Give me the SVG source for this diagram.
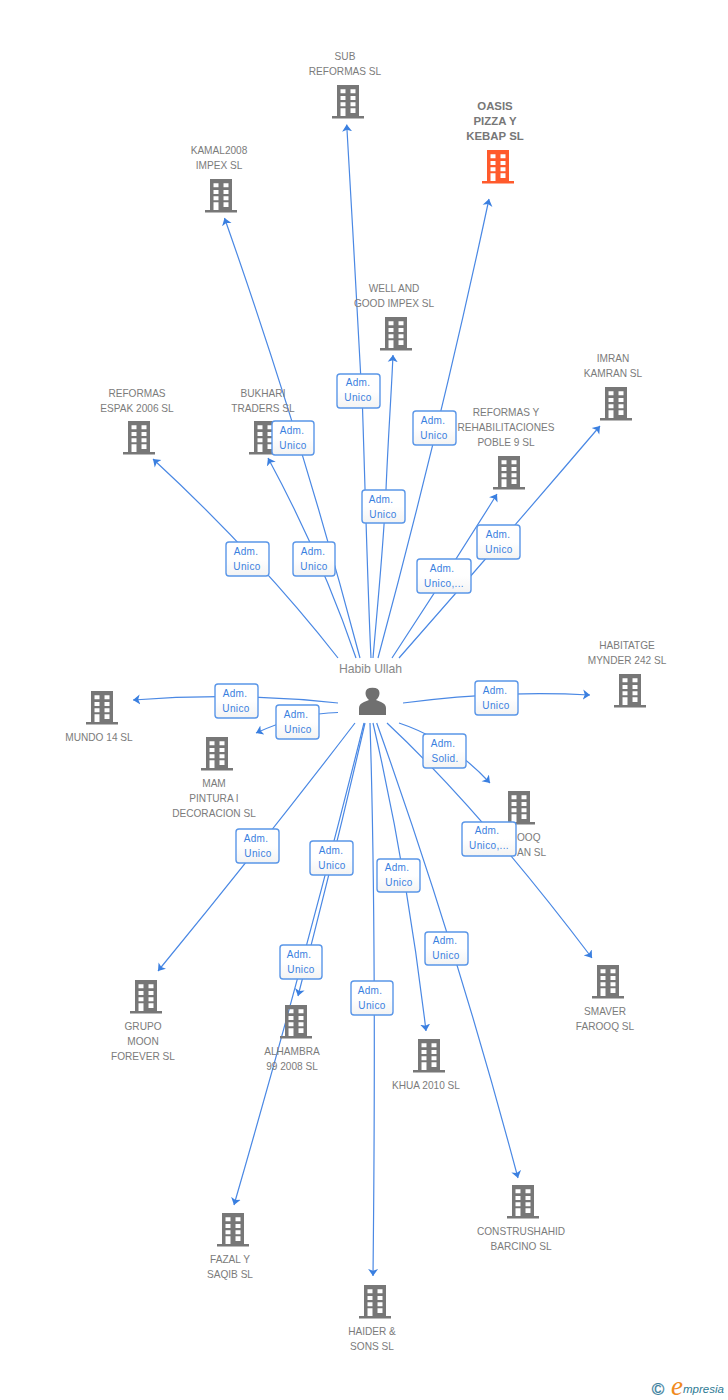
<svg xmlns="http://www.w3.org/2000/svg" width="728" height="1400" viewBox="0 0 728 1400">
<style>
text{font-family:"Liberation Sans",Arial,sans-serif}
.n{font-size:10.100px;fill:#7b7b7b;text-anchor:middle}
.s{font-size:10.100px;fill:#7b7b7b}
.b{font-size:11.400px;font-weight:bold;fill:#777;text-anchor:middle}
.l{font-size:10px;fill:#3a7fe0;text-anchor:middle;letter-spacing:.35px}
.c path{fill:none;stroke:#4a88e4;stroke-width:1.200;marker-end:url(#arr)}
.box{fill:url(#g);stroke:#5a96e8;stroke-width:1.400}
</style>
<defs>
<linearGradient id="g" x1="0" y1="0" x2="0" y2="1"><stop offset="0" stop-color="#fff"/><stop offset=".5" stop-color="#fff"/><stop offset="1" stop-color="#f3f3f3"/></linearGradient>
<marker id="arr" markerUnits="userSpaceOnUse" markerWidth="7" markerHeight="11" viewBox="0 0 7 11" refX="7" refY="5.500" orient="auto"><polygon points="7,5.500 0,0.500 1.800,5.500 0,10.500" fill="#3a7fe0"/></marker>
<symbol id="bld" overflow="visible" viewBox="0 0 32 34" width="32" height="34">
<path fill-rule="evenodd" d="M5 0H27V31H32V33.500H0V31H5ZM8.500 4.300V8.300H13.500V4.300ZM18.500 4.300V8.300H23.500V4.300ZM8.500 11V15H13.500V11ZM18.500 11V15H23.500V11ZM8.500 17.300V21.300H13.500V17.300ZM18.500 17.300V21.300H23.500V17.300ZM8.500 23.300V31H13.500V23.300ZM18.500 23.300V28H23.500V23.300Z"/>
</symbol>
</defs>
<rect width="728" height="1400" fill="#fff"/>
<g class="c" id="connectors">
<path d="M371 658C368 600 364 450 362.500 408S352 220 346.700 124.500"/>
<path d="M378 658Q440 428 489 199"/>
<path d="M360 658Q302 438 224.500 218"/>
<path d="M373 658C378 600 384 540 386 490S391 400 393 355"/>
<path d="M399 658Q501 542 600 426"/>
<path d="M338 658Q258 556 153 459"/>
<path d="M356 658Q322 558 268 458"/>
<path d="M392 658Q446 576 497 494"/>
<path d="M403 703Q500 690 590 695"/>
<path d="M338 703Q235 692 133 700"/>
<path d="M338 712.500Q300 713 256 733"/>
<path d="M399 723Q450 740 490 783"/>
<path d="M387 723Q480 810 592 958"/>
<path d="M355 723Q260 847 158 971"/>
<path d="M365 723Q334 858 298 996"/>
<path d="M364 723Q305 960 234 1205"/>
<path d="M370 723C374 850 376 1000 373 1276"/>
<path d="M373 723Q407 870 426 1031"/>
<path d="M376.700 723Q456 945 518 1178"/>
</g>
<g id="n-sub"><text class="n" x="345" y="60">SUB</text><text class="n" x="345" y="75">REFORMAS SL</text><use href="#bld" x="332" y="85" fill="#777"/></g>
<g id="n-oasis"><text class="b" x="495" y="110">OASIS</text><text class="b" x="495" y="125">PIZZA Y</text><text class="b" x="495" y="140">KEBAP SL</text><use href="#bld" x="482" y="150" fill="#ff5a2c"/></g>
<g id="n-kamal"><text class="n" x="219" y="154">KAMAL2008</text><text class="n" x="219" y="169">IMPEX SL</text><use href="#bld" x="205" y="179" fill="#777"/></g>
<g id="n-well"><text class="n" x="394" y="292">WELL AND</text><text class="n" x="394" y="307">GOOD IMPEX SL</text><use href="#bld" x="380" y="317" fill="#777"/></g>
<g id="n-imran"><text class="n" x="613" y="362">IMRAN</text><text class="n" x="613" y="377">KAMRAN SL</text><use href="#bld" x="600" y="387" fill="#777"/></g>
<g id="n-espak"><text class="n" x="137" y="397">REFORMAS</text><text class="n" x="137" y="412">ESPAK 2006 SL</text><use href="#bld" x="123" y="421" fill="#777"/></g>
<g id="n-bukhari"><text class="n" x="263" y="397">BUKHARI</text><text class="n" x="263" y="412">TRADERS SL</text><use href="#bld" x="249" y="421" fill="#777"/></g>
<g id="n-poble"><text class="n" x="506" y="416">REFORMAS Y</text><text class="n" x="506" y="431">REHABILITACIONES</text><text class="n" x="506" y="446">POBLE 9 SL</text><use href="#bld" x="493" y="456" fill="#777"/></g>
<g id="n-habitatge"><text class="n" x="627" y="649">HABITATGE</text><text class="n" x="627" y="664">MYNDER 242 SL</text><use href="#bld" x="614" y="674" fill="#777"/></g>
<g id="n-mundo"><use href="#bld" x="86" y="691" fill="#777"/><text class="n" x="99" y="741">MUNDO 14 SL</text></g>
<g id="n-mam"><use href="#bld" x="201" y="737" fill="#777"/><text class="n" x="214" y="787">MAM</text><text class="n" x="214" y="802">PINTURA I</text><text class="n" x="214" y="817">DECORACION SL</text></g>
<g id="n-farooq"><use href="#bld" x="503" y="791" fill="#777"/><text class="s" x="517" y="841">OOQ</text><text class="s" x="517" y="856">AN SL</text></g>
<g id="n-smaver"><use href="#bld" x="592" y="965" fill="#777"/><text class="n" x="605" y="1015">SMAVER</text><text class="n" x="605" y="1030">FAROOQ SL</text></g>
<g id="n-grupo"><use href="#bld" x="130" y="980" fill="#777"/><text class="n" x="143" y="1030">GRUPO</text><text class="n" x="143" y="1045">MOON</text><text class="n" x="143" y="1060">FOREVER SL</text></g>
<g id="n-alhambra"><use href="#bld" x="280" y="1005" fill="#777"/><text class="n" x="292" y="1055">ALHAMBRA</text><text class="n" x="292" y="1070">99 2008 SL</text></g>
<g id="n-khua"><use href="#bld" x="413" y="1039" fill="#777"/><text class="n" x="426" y="1089">KHUA 2010 SL</text></g>
<g id="n-construshahid"><use href="#bld" x="507" y="1185" fill="#777"/><text class="n" x="521" y="1235">CONSTRUSHAHID</text><text class="n" x="521" y="1250">BARCINO SL</text></g>
<g id="n-fazal"><use href="#bld" x="217" y="1213" fill="#777"/><text class="n" x="230" y="1263">FAZAL Y</text><text class="n" x="230" y="1278">SAQIB SL</text></g>
<g id="n-haider"><use href="#bld" x="359" y="1285" fill="#777"/><text class="n" x="372" y="1335">HAIDER &amp;</text><text class="n" x="372" y="1350">SONS SL</text></g>
<g id="n-habib"><text x="370.500" y="673" font-size="12.200" fill="#888" text-anchor="middle">Habib Ullah</text><path fill="#707070" d="M359 715V708Q359 704 364 702L369 700Q365.500 697 365.500 693Q365.500 687.700 372.500 687.700Q379.500 687.700 379.500 693Q379.500 697 376 700L381 702Q386 704 386 708V715Z"/></g>
<g id="labels">
<g id="e1"><rect class="box" x="337" y="374" width="43" height="34" rx="3"/><text class="l" x="358" y="386">Adm.</text><text class="l" x="358" y="401">Unico</text></g>
<g id="e2"><rect class="box" x="413" y="411" width="43" height="34" rx="3"/><text class="l" x="433" y="424">Adm.</text><text class="l" x="434" y="439">Unico</text></g>
<g id="e3"><rect class="box" x="272" y="421" width="42" height="34" rx="3"/><text class="l" x="292" y="434">Adm.</text><text class="l" x="293" y="449">Unico</text></g>
<g id="e4"><rect class="box" x="362" y="490" width="43" height="33" rx="3"/><text class="l" x="381" y="503">Adm.</text><text class="l" x="383" y="518">Unico</text></g>
<g id="e5"><rect class="box" x="226" y="542" width="43" height="34" rx="3"/><text class="l" x="246" y="555">Adm.</text><text class="l" x="247" y="570">Unico</text></g>
<g id="e6"><rect class="box" x="293" y="542" width="42" height="34" rx="3"/><text class="l" x="313" y="555">Adm.</text><text class="l" x="314" y="570">Unico</text></g>
<g id="e7"><rect class="box" x="477" y="525" width="43" height="34" rx="3"/><text class="l" x="498" y="538">Adm.</text><text class="l" x="499" y="553">Unico</text></g>
<g id="e8"><rect class="box" x="417" y="559" width="54" height="34" rx="3"/><text class="l" x="442" y="572">Adm.</text><text class="l" x="444" y="587">Unico,...</text></g>
<g id="e9"><rect class="box" x="475" y="681" width="43" height="34" rx="3"/><text class="l" x="495" y="694">Adm.</text><text class="l" x="496" y="709">Unico</text></g>
<g id="e10"><rect class="box" x="215" y="684" width="43" height="34" rx="3"/><text class="l" x="235" y="697">Adm.</text><text class="l" x="236" y="712">Unico</text></g>
<g id="e11"><rect class="box" x="276" y="705" width="43" height="34" rx="3"/><text class="l" x="296" y="718">Adm.</text><text class="l" x="298" y="733">Unico</text></g>
<g id="e12"><rect class="box" x="423" y="734" width="43" height="34" rx="3"/><text class="l" x="443" y="747">Adm.</text><text class="l" x="445" y="762">Solid.</text></g>
<g id="e13"><rect class="box" x="462" y="822" width="54" height="34" rx="3"/><text class="l" x="487" y="834">Adm.</text><text class="l" x="489" y="849">Unico,...</text></g>
<g id="e14"><rect class="box" x="236" y="829" width="43" height="34" rx="3"/><text class="l" x="256" y="842">Adm.</text><text class="l" x="258" y="857">Unico</text></g>
<g id="e15"><rect class="box" x="310" y="841" width="43" height="34" rx="3"/><text class="l" x="331" y="854">Adm.</text><text class="l" x="332" y="869">Unico</text></g>
<g id="e16"><rect class="box" x="377" y="859" width="43" height="33" rx="3"/><text class="l" x="397" y="871">Adm.</text><text class="l" x="399" y="886">Unico</text></g>
<g id="e17"><rect class="box" x="425" y="932" width="43" height="33" rx="3"/><text class="l" x="445" y="944">Adm.</text><text class="l" x="446" y="959">Unico</text></g>
<g id="e18"><rect class="box" x="280" y="945" width="42" height="34" rx="3"/><text class="l" x="299" y="958">Adm.</text><text class="l" x="301" y="973">Unico</text></g>
<g id="e19"><rect class="box" x="351" y="981" width="42" height="34" rx="3"/><text class="l" x="370" y="994">Adm.</text><text class="l" x="372" y="1009">Unico</text></g>
</g>
<g id="logo"><text x="658" y="1395" font-size="17" fill="#3c7f9e" stroke="#3c7f9e" stroke-width=".3" text-anchor="middle">©</text><text x="671" y="1395" font-size="27" font-style="italic" fill="#f08a1d" style="font-family:'Liberation Serif',serif">e</text><text x="683" y="1393" font-size="11.500" font-style="italic" fill="#2d7a94">mpresia</text></g>
</svg>
